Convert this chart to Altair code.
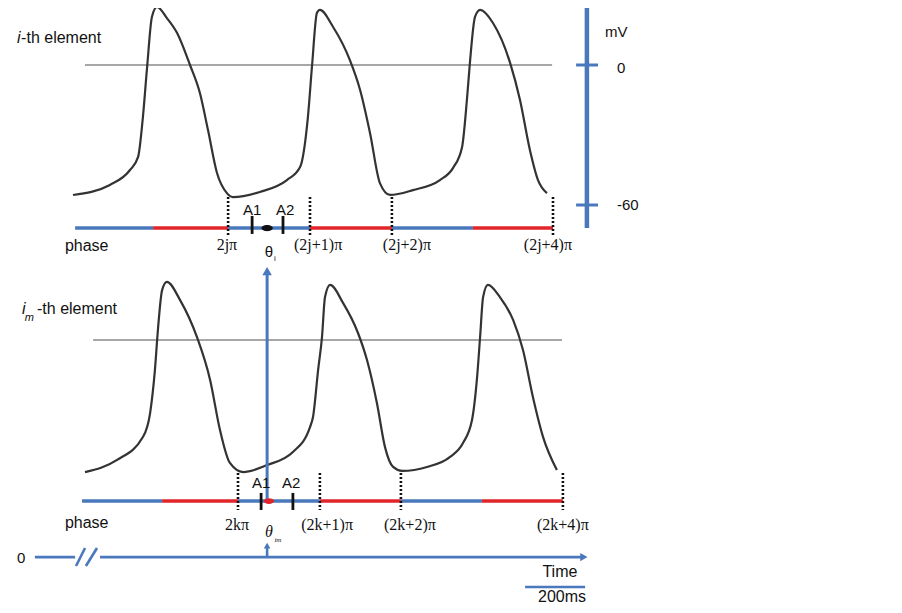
import altair as alt
import pandas as pd

BLUE = "#4a78bd"
RED = "#e0262b"
INK = "#333333"
SANS = "Liberation Sans"
SERIF = "Liberation Serif"

# ---------------- data (time in ms, potential in mV) ----------------
top_t = [0, 123, 190, 217, 233, 247, 263, 280, 313, 347, 390, 423, 450, 480, 513, 533, 623, 713, 757, 783,
         797, 813, 823, 867, 923, 957, 990, 1023, 1057, 1133, 1223, 1267, 1297, 1313, 1323, 1340, 1357, 1400,
         1457, 1490, 1523, 1550, 1580]
top_mv = [-55.7, -51.4, -45.0, -39.4, -22.3, -0.9, 20.6, 24.9, 20.1, 13.7, 0, -12.0, -27.9, -46.3, -54.9, -56.6,
          -54.4, -49.3, -43.7, -22.3, 0, 22.3, 23.6, 16.3, 2.1, -10.7, -29.1, -50.6, -55.7, -53.6, -49.3, -44.1,
          -35.1, -15.0, 0.9, 20.6, 23.6, 18.0, 0.9, -15.0, -36.4, -49.3, -54.9]
bot_t = [40, 147, 233, 257, 273, 283, 297, 313, 357, 413, 457, 490, 523, 567, 647, 733, 790, 800, 817, 830,
         840, 857, 900, 950, 980, 1013, 1040, 1067, 1097, 1180, 1257, 1300, 1330, 1347, 1357, 1367, 1383, 1423,
         1467, 1500, 1533, 1567, 1613]
bot_mv = [-56.6, -51.4, -41.6, -31.3, -12.9, 4.3, 21.4, 24.9, 17.1, 1.3, -17.1, -38.6, -52.7, -56.6, -53.6,
          -48.0, -37.3, -33.0, -12.9, 1.3, 18.4, 23.6, 15.9, 3.0, -8.6, -27.0, -45.9, -54.4, -56.1, -54.4, -50.1,
          -44.1, -34.3, -15.9, 1.3, 18.4, 23.6, 18.4, 8.6, -4.3, -24.4, -41.6, -55.7]

panel_offset = [0.0, -117.86]          # lower panel drawn 117.86 mV-units below the upper one
zero_start = [40, 67]
zero_end = [1597, 1630]

phase_level = [-69.9, -186.9]
top_phase_bounds = [7, 267, 517, 790, 1063, 1333, 1600]
bot_phase_bounds = [30, 297, 550, 823, 1093, 1363, 1633]
phase_half = ["0-π", "π-2π", "0-π", "π-2π", "0-π", "π-2π"]

top_marks = [517, 790, 1063, 1600]
bot_marks = [550, 823, 1093, 1633]
top_labels = ["2jπ", "(2j+1)π", "(2j+2)π", "(2j+4)π"]
bot_labels = ["2kπ", "(2k+1)π", "(2k+2)π", "(2k+4)π"]
top_label_t = [513, 817, 1113, 1583]
bot_label_t = [547, 847, 1123, 1633]

top_A_t = [597, 700]
bot_A_t = [627, 733]
theta_t = [647, 653]

mv_ticks = [0, -60]

# ---------------- scales ----------------
xs = alt.Scale(domain=[-216.7, 2736.7], nice=False, zero=False)
ys = alt.Scale(domain=[-231.43, 24.43], nice=False, zero=False)


def X(f="t"):
    return alt.X(f"{f}:Q", scale=xs, axis=None)


def Y(f="level"):
    return alt.Y(f"{f}:Q", scale=ys, axis=None)


layers = []

# zero-mV reference lines
zdf = pd.DataFrame({"t": zero_start, "t2": zero_end, "level": [0 + o for o in panel_offset]})
layers.append(alt.Chart(zdf).mark_rule(color="#8a8a8a", strokeWidth=1.6).encode(
    x=X(), x2="t2:Q", y=Y()))

# waveforms
wdf = pd.concat([
    pd.DataFrame({"t": top_t, "mv": top_mv, "panel": "i"}),
    pd.DataFrame({"t": bot_t, "mv": bot_mv, "panel": "im"}),
])
wdf["level"] = wdf["mv"] + wdf["panel"].map({"i": panel_offset[0], "im": panel_offset[1]})
layers.append(alt.Chart(wdf).mark_line(interpolate="monotone", color=INK, strokeWidth=2.2).encode(
    x=X(), y=Y(), detail="panel:N"))

# phase bars
rows = []
for bounds, lev in [(top_phase_bounds, phase_level[0]), (bot_phase_bounds, phase_level[1])]:
    for i in range(len(bounds) - 1):
        rows.append({"t": bounds[i], "t2": bounds[i + 1], "level": lev, "half": phase_half[i]})
pdf = pd.DataFrame(rows)
layers.append(alt.Chart(pdf).mark_rule(strokeWidth=3.5).encode(
    x=X(), x2="t2:Q", y=Y(),
    color=alt.Color("half:N", scale=alt.Scale(domain=["0-π", "π-2π"], range=[BLUE, RED]), legend=None)))

# dotted phase markers
ddf = pd.DataFrame({
    "t": top_marks + bot_marks,
    "level": [-56.6] * 4 + [-174.9] * 4,
    "level2": [-72.9] * 4 + [-190.7] * 4,
})
layers.append(alt.Chart(ddf).mark_rule(color="#111", strokeWidth=2.6, strokeDash=[2, 2]).encode(
    x=X(), y=Y(), y2="level2:Q"))

# A1 / A2 ticks
adf = pd.DataFrame({
    "t": top_A_t + bot_A_t,
    "level": [-64.7] * 2 + [-183.4] * 2,
    "level2": [-72.4] * 2 + [-190.7] * 2,
})
layers.append(alt.Chart(adf).mark_rule(color="#111", strokeWidth=2.8).encode(
    x=X(), y=Y(), y2="level2:Q"))

# right mV axis
layers.append(alt.Chart(pd.DataFrame({"t": [1713], "level": [25.7], "level2": [-69.9]})).mark_rule(
    color=BLUE, strokeWidth=4.5).encode(x=X(), y=Y(), y2="level2:Q"))
layers.append(alt.Chart(pd.DataFrame({"t": [1677] * 2, "t2": [1750] * 2, "level": mv_ticks})).mark_rule(
    color=BLUE, strokeWidth=3).encode(x=X(), x2="t2:Q", y=Y()))

# vertical arrow from lower phase to theta_i
layers.append(alt.Chart(pd.DataFrame({"t": [theta_t[0]], "level": [-186.9], "level2": [-89.0]})).mark_rule(
    color=BLUE, strokeWidth=3).encode(x=X(), y=Y(), y2="level2:Q"))
layers.append(alt.Chart(pd.DataFrame({"t": [theta_t[0]], "level": [-88.3]})).mark_point(
    shape="triangle-up", filled=True, size=90, color=BLUE, opacity=1).encode(x=X(), y=Y()))

# blobs (theta positions)
ell = "M-1,0A1,0.55,0,1,1,1,0A1,0.55,0,1,1,-1,0Z"
layers.append(alt.Chart(pd.DataFrame({"t": [theta_t[0]], "level": [phase_level[0]]})).mark_point(
    shape=ell, filled=True, size=130, color="#111", opacity=1).encode(x=X(), y=Y()))
layers.append(alt.Chart(pd.DataFrame({"t": [theta_t[1]], "level": [phase_level[1]]})).mark_point(
    shape=ell, filled=True, size=110, color=RED, opacity=1).encode(x=X(), y=Y()))

# time axis
tdf = pd.DataFrame({"t": [-127, 90], "t2": [7, 1700], "level": [-210.9, -210.9]})
layers.append(alt.Chart(tdf).mark_rule(color=BLUE, strokeWidth=2.6).encode(x=X(), x2="t2:Q", y=Y()))
sdf = pd.DataFrame({"t": [10, 43], "t2": [40, 80], "level": [-214.7, -214.7], "level2": [-207.0, -207.0]})
layers.append(alt.Chart(sdf).mark_rule(color=BLUE, strokeWidth=2.6).encode(
    x=X(), x2="t2:Q", y=Y(), y2="level2:Q"))
layers.append(alt.Chart(pd.DataFrame({"t": [1703], "level": [-210.9]})).mark_point(
    shape="triangle-right", filled=True, size=70, color=BLUE, opacity=1).encode(x=X(), y=Y()))
layers.append(alt.Chart(pd.DataFrame({"t": [theta_t[0]], "level": [-210.9], "level2": [-206.5]})).mark_rule(
    color=BLUE, strokeWidth=2.6).encode(x=X(), y=Y(), y2="level2:Q"))
layers.append(alt.Chart(pd.DataFrame({"t": [theta_t[0]], "level": [-206.0]})).mark_point(
    shape="triangle-up", filled=True, size=45, color=BLUE, opacity=1).encode(x=X(), y=Y()))

# 200 ms scale bar
layers.append(alt.Chart(pd.DataFrame({"t": [1507], "t2": [1707], "level": [-223.7]})).mark_rule(
    color=BLUE, strokeWidth=2.6).encode(x=X(), x2="t2:Q", y=Y()))


def text_layer(labels, ts, levels, **kw):
    df = pd.DataFrame({"label": labels, "t": ts, "level": levels})
    base = dict(baseline="middle", color="#111")
    base.update(kw)
    return alt.Chart(df).mark_text(**base).encode(x=X(), y=Y(), text="label:N")


layers.append(text_layer(["phase", "phase", "-th element", "-th element"],
                         [-27, -27, -173, -120], [-77.6, -196.3, 11.6, -104.6],
                         font=SANS, fontSize=16, align="left"))
layers.append(text_layer(["i", "i"], [-187, -170], [11.6, -104.6],
                         font=SANS, fontSize=16, align="left", fontStyle="italic"))
layers.append(text_layer(["m"], [-161], [-108.6], font=SANS, fontSize=11, align="left", fontStyle="italic"))
layers.append(text_layer(["A1", "A2", "A1", "A2"], [597, 707, 627, 727], [-62.1, -62.1, -179.1, -179.1],
                         font=SANS, fontSize=15, align="center"))
layers.append(text_layer(["mV", "0", "-60", "0"], [1773, 1813, 1813, -187], [14.1, -1.3, -60, -211.3],
                         font=SANS, fontSize=15, align="left"))
layers.append(text_layer(["Time"], [1623], [-217.3], font=SANS, fontSize=16, align="center"))
layers.append(text_layer(["200ms"], [1630], [-231.4], font=SANS, fontSize=16, align="center",
                         baseline="bottom"))
layers.append(text_layer(top_labels + bot_labels, top_label_t + bot_label_t, [-77.1] * 4 + [-197.1] * 4,
                         font=SERIF, fontSize=16, align="center"))
layers.append(text_layer(["θ"], [653], [-80.1], font=SANS, fontSize=15, align="center"))
layers.append(text_layer(["i"], [673], [-83.1], font=SANS, fontSize=8, align="center"))
layers.append(text_layer(["θ"], [653], [-200.1], font=SERIF, fontSize=16, align="center", fontStyle="italic"))
layers.append(text_layer(["im"], [683], [-203.6], font=SERIF, fontSize=7, align="center", fontStyle="italic"))

chart = alt.layer(*layers).properties(
    width=886, height=597, autosize="none", padding=0, background="white"
).configure_view(stroke=None)

chart.save("out.html", embed_options={"renderer": "svg", "actions": False})
